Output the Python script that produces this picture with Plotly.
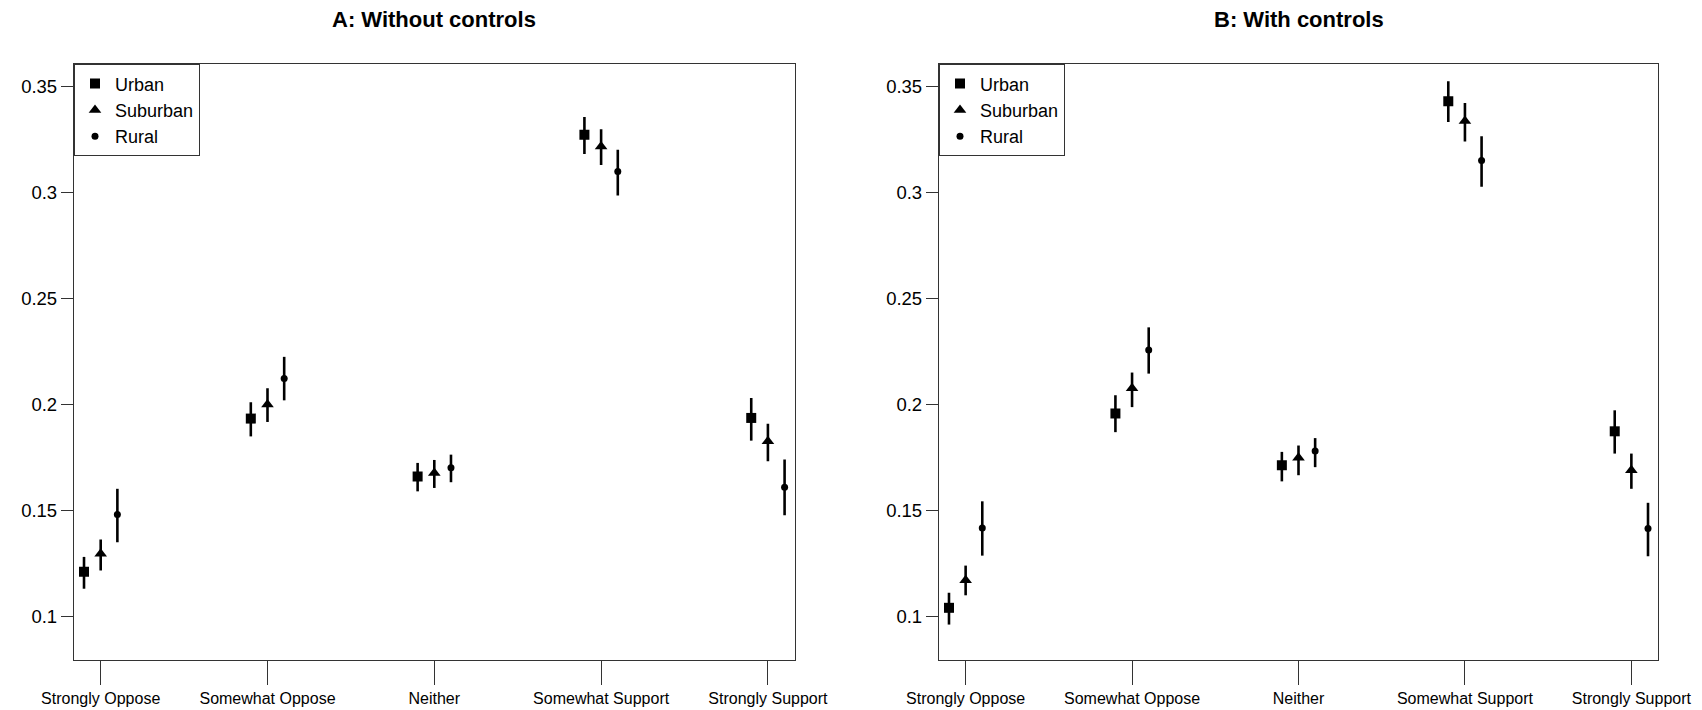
import plotly.graph_objects as go

categories = ["Strongly Oppose", "Somewhat Oppose", "Neither", "Somewhat Support", "Strongly Support"]
groups = ["Urban", "Suburban", "Rural"]
y_tick_vals = [0.1, 0.15, 0.2, 0.25, 0.3, 0.35]
y_tick_text = ["0.1", "0.15", "0.2", "0.25", "0.3", "0.35"]

# Panel A: Without controls (point estimate, lower, upper)
a_urban = [0.1212, 0.1934, 0.1661, 0.3272, 0.1937]
a_urban_lo = [0.1132, 0.1850, 0.1591, 0.3181, 0.1830]
a_urban_hi = [0.1282, 0.2011, 0.1725, 0.3355, 0.2031]
a_suburban = [0.1297, 0.2000, 0.1678, 0.3216, 0.1827]
a_suburban_lo = [0.1218, 0.1918, 0.1607, 0.3129, 0.1733]
a_suburban_hi = [0.1364, 0.2077, 0.1739, 0.3298, 0.1910]
a_rural = [0.1482, 0.2123, 0.1702, 0.3099, 0.1610]
a_rural_lo = [0.1351, 0.2020, 0.1634, 0.2986, 0.1478]
a_rural_hi = [0.1603, 0.2225, 0.1764, 0.3201, 0.1741]

# Panel B: With controls
b_urban = [0.1042, 0.1958, 0.1714, 0.3430, 0.1874]
b_urban_lo = [0.0963, 0.1870, 0.1638, 0.3332, 0.1769]
b_urban_hi = [0.1113, 0.2044, 0.1777, 0.3524, 0.1973]
b_suburban = [0.1172, 0.2077, 0.1749, 0.3337, 0.1690]
b_suburban_lo = [0.1101, 0.1988, 0.1667, 0.3240, 0.1603]
b_suburban_hi = [0.1241, 0.2151, 0.1807, 0.3421, 0.1769]
b_rural = [0.1418, 0.2257, 0.1781, 0.3151, 0.1416]
b_rural_lo = [0.1288, 0.2146, 0.1705, 0.3027, 0.1285]
b_rural_hi = [0.1544, 0.2364, 0.1842, 0.3265, 0.1537]

panel_titles = ["A: Without controls", "B: With controls"]

W, H = 1702, 710
FONT = "Liberation Sans, Arial, sans-serif"
symbols = {"Urban": "square", "Suburban": "triangle-up", "Rural": "circle"}
sizes = {"Urban": 10, "Suburban": 11, "Rural": 7}
offsets = {"Urban": -0.1, "Suburban": 0.0, "Rural": 0.1}

panels = [
    {"Urban": (a_urban, a_urban_lo, a_urban_hi),
     "Suburban": (a_suburban, a_suburban_lo, a_suburban_hi),
     "Rural": (a_rural, a_rural_lo, a_rural_hi)},
    {"Urban": (b_urban, b_urban_lo, b_urban_hi),
     "Suburban": (b_suburban, b_suburban_lo, b_suburban_hi),
     "Rural": (b_rural, b_rural_lo, b_rural_hi)},
]

# plot-area pixel boxes
x_px = [(74, 794.6), (939, 1658)]
y_top_px, y_bot_px = 64.3, 660

fig = go.Figure()
base_x = list(range(1, len(categories) + 1))
for p, data in enumerate(panels):
    sfx = "" if p == 0 else str(p + 1)
    for g in groups:
        v, lo, hi = data[g]
        fig.add_trace(go.Scatter(
            x=[b + offsets[g] for b in base_x], y=v,
            mode="markers", name=g,
            marker=dict(symbol=symbols[g], size=sizes[g], color="black"),
            error_y=dict(type="data", symmetric=False,
                         array=[h - c for h, c in zip(hi, v)],
                         arrayminus=[c - l for c, l in zip(v, lo)],
                         thickness=2.6, width=0, color="black"),
            xaxis="x" + sfx, yaxis="y" + sfx,
            legend="legend" + sfx,
        ))

layout = dict(
    width=W, height=H,
    margin=dict(l=0, r=0, t=0, b=0),
    paper_bgcolor="white", plot_bgcolor="white",
    font=dict(family=FONT, color="black"),
    annotations=[],
)
ydom = [1 - y_bot_px / H, 1 - y_top_px / H]
for p in range(2):
    sfx = "" if p == 0 else str(p + 1)
    x0, x1 = x_px[p]
    layout["xaxis" + sfx] = dict(
        domain=[x0 / W, x1 / W], anchor="y" + sfx, range=[0.84, 5.16],
        tickvals=base_x, ticktext=categories, ticks="outside", ticklen=24,
        tickwidth=1, tickcolor="#333", showline=True, mirror=True,
        linecolor="#333", linewidth=1.3, showgrid=False, zeroline=False,
        tickfont=dict(size=16, family=FONT), automargin=False,
    )
    layout["yaxis" + sfx] = dict(
        domain=ydom, anchor="x" + sfx, range=[0.0796, 0.3604],
        tickvals=y_tick_vals, ticktext=y_tick_text, ticks="outside", ticklen=12,
        tickwidth=1, tickcolor="#333", showline=True, mirror=True,
        linecolor="#333", linewidth=1.3, showgrid=False, zeroline=False,
        tickfont=dict(size=18.5, family=FONT), automargin=False,
    )
    layout["legend" + sfx] = dict(
        x=x0 / W, y=ydom[1], xanchor="left", yanchor="top",
        bordercolor="#333", borderwidth=1, bgcolor="white",
        font=dict(size=18, family=FONT), tracegroupgap=0,
    )
    layout["annotations"].append(dict(
        text="<b>" + panel_titles[p] + "</b>", x=(x0 + x1) / 2 / W, y=1 - 20 / H,
        xref="paper", yref="paper", xanchor="center", yanchor="middle",
        showarrow=False, font=dict(size=22, family=FONT),
    ))

fig.update_layout(**layout)
fig.write_html("out.html",
               config={"displayModeBar": False},
               post_script="document.body.style.margin='0px';document.body.style.overflow='hidden';")
